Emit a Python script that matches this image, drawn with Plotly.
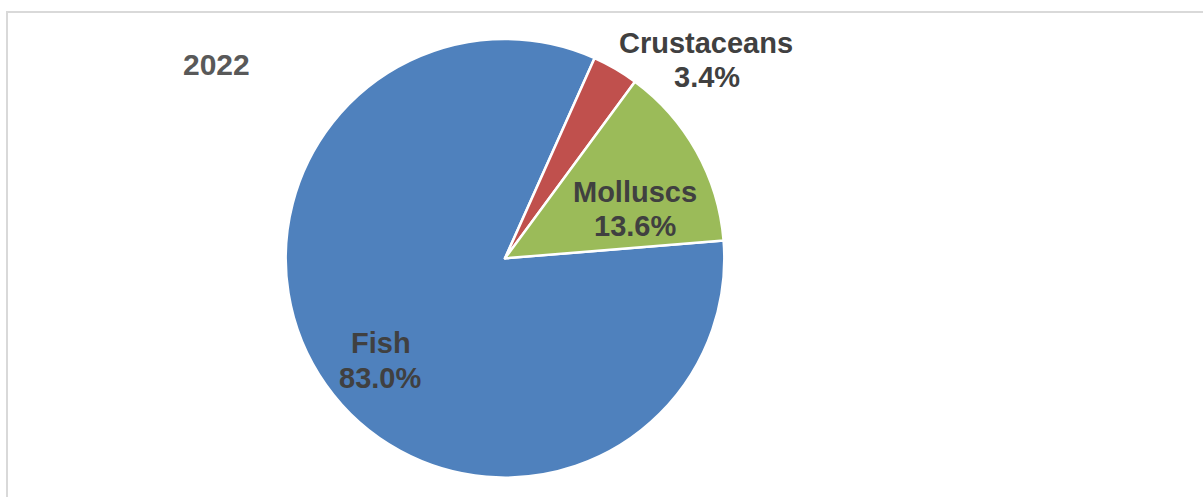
import plotly.graph_objects as go

# Share of production by species group, 2022
categories = ["Fish", "Crustaceans", "Molluscs"]
shares = [83.0, 3.4, 13.6]
colors = ["#4F81BD", "#C0504D", "#9BBB59"]
year_label = "2022"

W, H = 1203, 497
FONT = "Liberation Sans, Arial, sans-serif"
TEXT_COLOR = "#404040"


def px_x(x):
    return x / W


def px_y(y):
    return 1 - y / H


# pie bounding box in pixels (left, top, right, bottom)
pie_box = (285.7, 39.0, 724.3, 477.7)

fig = go.Figure(
    go.Pie(
        labels=categories,
        values=shares,
        sort=False,
        direction="clockwise",
        rotation=85.3,
        marker=dict(colors=colors, line=dict(color="white", width=2.5)),
        textinfo="none",
        hoverinfo="label+percent",
        showlegend=False,
        domain=dict(
            x=[px_x(pie_box[0]), px_x(pie_box[2])],
            y=[px_y(pie_box[3]), px_y(pie_box[1])],
        ),
    )
)

# label anchor points (pixel centres of the name line and the value line)
label_pos = {
    "Fish": ((381, 343.3), (380, 377.5)),
    "Crustaceans": ((706, 43.3), (707, 77.5)),
    "Molluscs": ((635, 191.7), (635, 226.0)),
}

annotations = []
for cat, val in zip(categories, shares):
    (nx, ny), (vx, vy) = label_pos[cat]
    for text, (x, y) in ((cat, (nx, ny)), (f"{val:.1f}%", (vx, vy))):
        annotations.append(
            dict(
                text=f"<b>{text}</b>",
                x=px_x(x), y=px_y(y), xref="paper", yref="paper",
                xanchor="center", yanchor="middle", showarrow=False,
                font=dict(family=FONT, size=29, color=TEXT_COLOR),
            )
        )

annotations.append(
    dict(
        text=f"<b>{year_label}</b>",
        x=px_x(216), y=px_y(64.7), xref="paper", yref="paper",
        xanchor="center", yanchor="middle", showarrow=False,
        font=dict(family=FONT, size=30, color="#595959"),
    )
)

fig.update_layout(
    width=W,
    height=H,
    margin=dict(l=0, r=0, t=0, b=0),
    paper_bgcolor="white",
    plot_bgcolor="white",
    annotations=annotations,
    shapes=[
        dict(
            type="rect", xref="paper", yref="paper",
            x0=px_x(7), x1=px_x(W + 20), y0=px_y(H + 20), y1=px_y(12),
            line=dict(color="#D9D9D9", width=2),
            fillcolor="rgba(0,0,0,0)", layer="below",
        )
    ],
)

fig.write_html("out.html")
